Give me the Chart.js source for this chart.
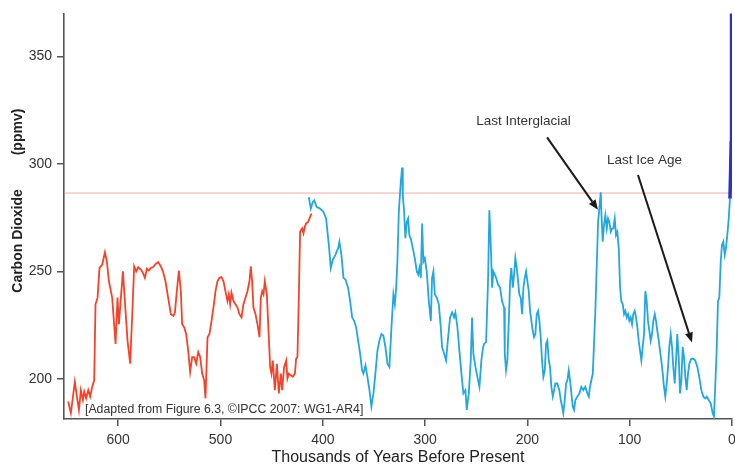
<!DOCTYPE html>
<html>
<head>
<meta charset="utf-8">
<script src="https://cdn.jsdelivr.net/npm/chart.js@4.4.1/dist/chart.umd.min.js"></script>
<style>
  html, body { margin: 0; padding: 0; background: #fff; }
  #wrap { width: 735px; height: 468px; }
</style>
</head>
<body>
<div id="wrap"><canvas id="co2"></canvas></div>
<script>
// thousands of years before present / CO2 ppmv
const redAge = [648.9, 646.3, 642.4, 640.4, 638.4, 636.5, 634.5, 633.2, 631.3, 629.3, 627.4, 625.4, 623.5, 622.2, 620.2, 618.3, 615.7, 613.0, 611.1, 609.1, 605.9, 602.6, 600.7, 599.3, 597.4, 595.4, 593.5, 590.9, 588.3, 586.3, 584.4, 582.4, 580.5, 577.8, 575.9, 573.9, 572.0, 570.0, 568.1, 566.1, 563.6, 560.9, 558.3, 556.3, 553.8, 551.2, 548.5, 546.0, 544.6, 542.7, 540.7, 538.8, 537.5, 535.5, 533.6, 531.6, 529.7, 527.7, 525.8, 523.8, 521.8, 519.9, 517.9, 516.0, 514.7, 512.7, 510.8, 508.8, 506.9, 504.9, 503.0, 501.0, 499.1, 497.1, 495.2, 493.2, 491.9, 490.6, 489.3, 487.3, 485.4, 483.4, 481.5, 479.5, 477.6, 475.6, 473.7, 471.7, 470.4, 469.1, 467.8, 465.8, 463.9, 461.9, 460.6, 459.3, 458.0, 456.7, 454.7, 452.8, 451.5, 450.2, 448.9, 446.9, 444.9, 443.0, 441.0, 439.8, 437.8, 435.8, 434.6, 433.2, 431.3, 429.3, 427.3, 426.1, 424.8, 423.4, 422.2, 420.2, 418.9, 417.6, 416.3, 414.3, 412.4, 411.1];
const redCO2 = [189.6, 184.2, 198.8, 191.9, 185.7, 194.9, 190.3, 194.2, 191.1, 194.9, 191.9, 196.5, 199.5, 234.8, 237.9, 251.7, 253.2, 259.0, 254.7, 245.5, 237.9, 216.4, 237.9, 225.6, 237.9, 250.1, 236.3, 217.9, 207.2, 230.2, 252.4, 250.1, 252.0, 250.9, 249.4, 247.1, 251.4, 250.5, 251.7, 252.0, 253.5, 254.4, 252.4, 250.1, 245.5, 237.9, 230.2, 229.4, 231.0, 240.9, 250.5, 240.9, 225.6, 224.1, 221.0, 213.3, 203.4, 210.3, 210.3, 207.2, 212.6, 210.3, 202.6, 199.5, 191.1, 219.5, 221.0, 227.1, 233.3, 240.9, 245.5, 247.1, 247.4, 245.5, 240.9, 236.3, 239.4, 234.8, 240.2, 236.3, 234.8, 233.3, 230.2, 228.7, 234.8, 237.9, 240.9, 245.5, 252.4, 245.5, 233.3, 230.2, 225.6, 219.5, 237.9, 240.9, 239.4, 245.5, 239.4, 219.5, 205.7, 202.6, 208.7, 194.9, 207.2, 193.4, 202.6, 194.9, 205.7, 208.7, 200.3, 202.6, 201.8, 201.1, 202.6, 209.5, 210.3, 239.4, 268.5, 270.1, 267.8, 270.8, 272.4, 273.1, 275.4, 277.0];

const blueAge = [413.7, 411.7, 409.8, 408.5, 405.9, 402.6, 399.4, 396.8, 394.1, 392.2, 390.2, 387.7, 385.0, 383.8, 381.8, 379.8, 377.9, 375.3, 373.3, 371.3, 369.4, 367.4, 365.5, 363.5, 361.6, 360.3, 358.3, 356.4, 354.4, 352.5, 350.5, 348.6, 346.6, 344.7, 342.7, 340.8, 338.8, 336.8, 334.9, 332.9, 331.0, 329.6, 328.3, 327.1, 325.7, 323.8, 322.5, 321.8, 320.5, 319.3, 317.9, 316.6, 315.4, 314.1, 312.0, 310.1, 308.1, 306.8, 305.6, 304.2, 302.9, 301.7, 300.3, 298.4, 296.4, 294.4, 293.2, 291.9, 290.5, 288.6, 286.6, 284.7, 283.4, 281.4, 279.5, 277.5, 275.6, 273.6, 271.7, 270.4, 268.4, 266.5, 264.5, 262.6, 260.6, 259.3, 257.3, 255.4, 254.1, 252.8, 250.8, 248.9, 246.9, 245.0, 243.6, 242.4, 240.4, 238.4, 237.2, 235.8, 234.5, 233.3, 231.9, 230.6, 228.7, 226.7, 224.8, 222.8, 222.1, 220.9, 219.6, 218.2, 216.9, 215.7, 214.3, 213.0, 211.8, 210.4, 209.1, 207.9, 206.5, 205.2, 203.9, 202.6, 201.3, 200.0, 198.7, 197.4, 196.1, 194.8, 193.5, 192.2, 190.9, 189.6, 188.3, 187.0, 185.7, 184.4, 183.0, 181.8, 180.5, 179.1, 177.9, 176.6, 175.2, 173.9, 172.7, 170.7, 168.8, 167.4, 166.1, 164.9, 163.5, 162.2, 160.9, 159.6, 158.3, 157.0, 155.7, 154.4, 153.1, 151.2, 149.2, 147.3, 145.3, 143.4, 141.4, 140.0, 138.8, 137.5, 136.1, 134.9, 133.6, 132.2, 130.9, 129.7, 128.3, 127.7, 126.4, 125.1, 123.8, 122.4, 121.2, 119.9, 118.5, 117.3, 116.0, 114.6, 113.4, 112.1, 110.7, 109.4, 108.2, 106.8, 105.5, 104.3, 102.9, 101.6, 100.4, 99.0, 97.7, 96.5, 95.1, 93.8, 92.5, 91.2, 89.9, 88.6, 87.3, 86.0, 84.7, 83.4, 82.1, 80.8, 79.5, 78.2, 76.9, 75.5, 74.3, 73.0, 71.6, 70.4, 69.1, 67.7, 66.5, 65.2, 63.8, 62.5, 61.3, 59.9, 58.6, 57.4, 56.0, 54.7, 53.5, 52.1, 50.8, 49.5, 48.2, 46.9, 45.6, 44.3, 43.0, 41.7, 39.8, 37.8, 35.9, 33.9, 32.0, 30.0, 28.0, 26.1, 24.7, 22.8, 20.8, 18.9, 17.6, 16.3, 15.0, 13.7, 12.4, 11.0, 9.8, 8.5, 7.1, 5.9, 4.6, 3.2, 2.0];
const blueCO2 = [284.6, 279.3, 282.3, 283.1, 280.0, 279.3, 277.7, 274.7, 262.4, 251.7, 255.5, 257.8, 260.9, 263.9, 257.8, 247.1, 246.3, 242.5, 236.3, 228.7, 227.1, 224.1, 217.9, 211.8, 204.1, 202.6, 206.4, 201.1, 194.9, 187.3, 193.4, 202.6, 213.3, 217.9, 221.0, 220.3, 214.9, 207.2, 205.7, 224.1, 239.4, 234.8, 242.5, 254.7, 277.7, 291.5, 298.4, 285.4, 277.7, 265.5, 273.1, 274.7, 267.0, 265.5, 260.9, 256.3, 250.1, 248.6, 251.7, 247.1, 272.4, 254.7, 256.3, 250.1, 236.3, 227.1, 247.1, 250.1, 239.4, 237.9, 234.8, 224.1, 214.9, 211.8, 208.7, 219.5, 228.7, 231.0, 228.7, 231.0, 224.1, 213.3, 202.6, 193.4, 194.9, 185.7, 193.4, 208.7, 228.7, 211.8, 205.7, 201.1, 196.5, 208.7, 214.1, 216.4, 217.2, 247.1, 278.5, 262.4, 242.5, 250.1, 248.6, 247.1, 244.0, 242.5, 236.3, 233.3, 211.8, 204.1, 208.7, 227.1, 245.5, 251.7, 242.5, 248.6, 256.3, 251.7, 245.5, 239.4, 237.9, 230.2, 242.5, 247.1, 250.1, 245.5, 240.9, 231.7, 227.1, 222.5, 219.5, 221.0, 230.2, 231.7, 227.1, 219.5, 208.7, 201.1, 204.1, 216.4, 217.9, 208.7, 205.7, 196.5, 191.9, 194.9, 198.0, 198.0, 194.9, 190.3, 187.3, 184.2, 190.3, 198.0, 199.5, 204.1, 199.5, 193.4, 187.3, 185.7, 190.3, 191.9, 193.4, 196.5, 194.9, 196.5, 193.4, 191.9, 196.5, 199.5, 202.6, 216.4, 231.7, 253.2, 273.1, 279.3, 286.9, 277.7, 263.9, 271.6, 276.2, 270.1, 274.7, 273.1, 268.5, 270.0, 270.1, 274.7, 267.0, 268.5, 260.9, 242.5, 236.3, 234.8, 230.2, 231.7, 228.7, 230.2, 227.1, 228.7, 225.6, 230.2, 231.7, 228.7, 224.1, 217.9, 213.3, 208.7, 214.9, 221.0, 240.9, 236.3, 227.1, 222.5, 217.9, 221.0, 227.1, 230.2, 227.1, 222.5, 217.9, 213.3, 208.7, 202.6, 196.5, 191.9, 198.0, 205.7, 214.9, 221.0, 214.9, 205.7, 198.0, 208.7, 221.0, 210.3, 193.4, 199.5, 214.9, 210.3, 201.1, 194.9, 202.6, 207.2, 209.5, 209.5, 208.7, 205.7, 201.1, 194.9, 191.9, 191.1, 191.9, 190.3, 188.8, 184.2, 182.7, 198.0, 213.3, 236.3, 237.9, 254.7, 262.4, 263.9, 257.8, 260.9, 267.0, 274.7, 283.9];

// industrial era rise
const nowAge = [2.0, 1.3, 0.8, 0.5, 0.4];
const nowCO2 = [283.9, 297.7, 310.0, 330.0, 372.0];

// pre-industrial reference level
const refAge = [653, 0];
const refCO2 = [286.5, 286.5];

const xTicks = [600, 500, 400, 300, 200, 100, 0];
const yTicks = [200, 250, 300, 350];

const xTitle = 'Thousands of Years Before Present';
const yTitleMain = 'Carbon Dioxide';
const yTitleUnit = '(ppmv)';
const sourceNote = '[Adapted from Figure 6.3, \u00A9IPCC 2007: WG1-AR4]';

// labels with arrows: text position, arrow tail, arrow tip (age, ppmv)
const notes = [
  { text: 'Last Interglacial', at: [203.8, 319.7], from: [180.8, 312.4], to: [131.0, 278.7] },
  { text: 'Last Ice Age', at: [85.5, 301.8], from: [91.9, 294.9], to: [39.1, 217.0] }
];

const FONT = '"Liberation Sans", Arial, Helvetica, sans-serif';

const pts = (xs, ys) => xs.map((x, i) => ({ x: x, y: ys[i] }));

const extras = {
  id: 'extras',
  afterDraw(chart) {
    const ctx = chart.ctx;
    const xs = chart.scales.x, ys = chart.scales.y;
    ctx.save();

    // y axis title, rotated
    ctx.fillStyle = '#222';
    ctx.font = 'bold 14px ' + FONT;
    ctx.textAlign = 'center';
    ctx.textBaseline = 'alphabetic';
    [[yTitleMain, 241], [yTitleUnit, 132]].forEach(([t, cy]) => {
      ctx.save();
      ctx.translate(22, cy);
      ctx.rotate(-Math.PI / 2);
      ctx.fillText(t, 0, 0);
      ctx.restore();
    });

    // source note
    ctx.font = '12.3px ' + FONT;
    ctx.fillStyle = '#333';
    ctx.textAlign = 'left';
    ctx.textBaseline = 'middle';
    ctx.fillText(sourceNote, chart.chartArea.left + 21, 410);

    // annotations
    notes.forEach(n => {
      ctx.font = '13.5px ' + FONT;
      ctx.fillStyle = '#333';
      ctx.textAlign = 'center';
      ctx.textBaseline = 'middle';
      ctx.fillText(n.text, xs.getPixelForValue(n.at[0]), ys.getPixelForValue(n.at[1]));

      const x0 = xs.getPixelForValue(n.from[0]), y0 = ys.getPixelForValue(n.from[1]);
      const x1 = xs.getPixelForValue(n.to[0]), y1 = ys.getPixelForValue(n.to[1]);
      const ang = Math.atan2(y1 - y0, x1 - x0);
      const hl = 10, hw = 4;
      const bx = x1 - hl * Math.cos(ang), by = y1 - hl * Math.sin(ang);
      ctx.strokeStyle = '#1a1a1a';
      ctx.lineWidth = 2;
      ctx.beginPath();
      ctx.moveTo(x0, y0);
      ctx.lineTo(bx, by);
      ctx.stroke();
      ctx.fillStyle = '#1a1a1a';
      ctx.beginPath();
      ctx.moveTo(x1, y1);
      ctx.lineTo(bx + hw * Math.sin(ang), by - hw * Math.cos(ang));
      ctx.lineTo(bx - hw * Math.sin(ang), by + hw * Math.cos(ang));
      ctx.closePath();
      ctx.fill();
    });
    ctx.restore();
  }
};

new Chart(document.getElementById('co2'), {
  type: 'line',
  data: {
    datasets: [
      { data: pts(refAge, refCO2), borderColor: 'rgba(225,140,140,0.7)', borderWidth: 1, order: 4 },
      { data: pts(redAge, redCO2), borderColor: '#f3432b', borderWidth: 1.8, order: 3 },
      { data: pts(blueAge, blueCO2), borderColor: '#24a6de', borderWidth: 1.8, order: 2 },
      { data: pts(nowAge, nowCO2), borderColor: '#2a32c4', borderWidth: 3.5, order: 1 }
    ]
  },
  options: {
    responsive: true,
    maintainAspectRatio: false,
    animation: false,
    devicePixelRatio: 1,
    layout: { padding: { top: 10, right: 3, bottom: 0, left: 0 } },
    elements: { point: { radius: 0 }, line: { tension: 0 } },
    plugins: { legend: { display: false }, tooltip: { enabled: false } },
    scales: {
      x: {
        type: 'linear',
        reverse: true,
        min: 0,
        max: 653,
        afterBuildTicks: s => { s.ticks = xTicks.map(v => ({ value: v })); },
        afterFit: s => { s.height = 49; s.paddingLeft = 0; s.paddingRight = 0; },
        grid: { display: true, drawOnChartArea: false, tickLength: 7, color: '#555', lineWidth: 1.5 },
        border: { display: true, color: '#555', width: 1.6 },
        ticks: { color: '#333', font: { family: FONT, size: 14 }, padding: 6, maxRotation: 0, autoSkip: false },
        title: { display: true, text: xTitle, color: '#222', font: { family: FONT, size: 16 }, padding: { top: 0, bottom: 1 } }
      },
      y: {
        min: 181.5,
        max: 370,
        afterBuildTicks: s => { s.ticks = yTicks.map(v => ({ value: v })); },
        afterFit: s => { s.width = 64; },
        grid: { display: true, drawOnChartArea: false, tickLength: 7, color: '#555', lineWidth: 1.5 },
        border: { display: true, color: '#555', width: 1.6 },
        ticks: { color: '#333', font: { family: FONT, size: 14 }, padding: 5 }
      }
    }
  },
  plugins: [extras]
});
</script>
</body>
</html>
